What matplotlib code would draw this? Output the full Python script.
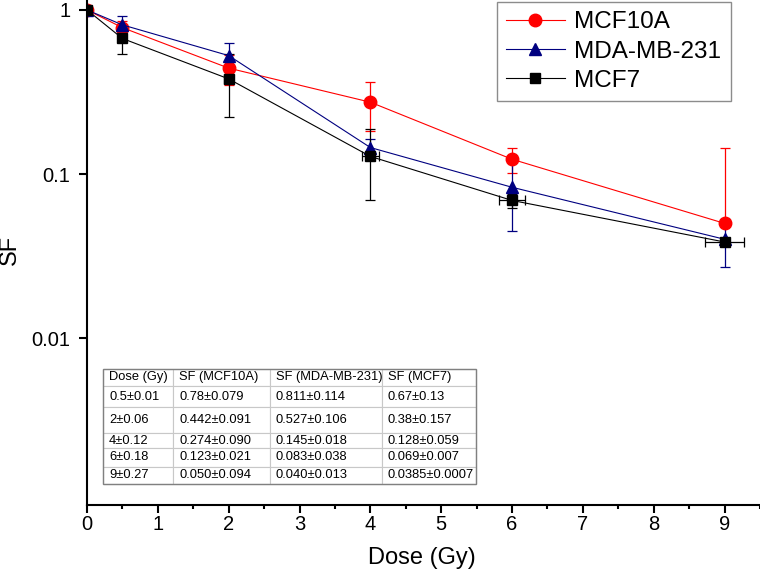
import numpy as np
import matplotlib
matplotlib.use("Agg")
import matplotlib.pyplot as plt
from matplotlib.patches import Rectangle

plt.rcParams["font.family"] = ["Liberation Sans", "DejaVu Sans"]

# ---------- DATA ----------
dose = [0, 0.5, 2, 4, 6, 9]
dose_err = [0, 0.01, 0.06, 0.12, 0.18, 0.27]

sf_mcf10a = [1, 0.78, 0.442, 0.274, 0.123, 0.050]
err_mcf10a = [0, 0.079, 0.091, 0.090, 0.021, 0.094]

sf_mda = [1, 0.811, 0.527, 0.145, 0.083, 0.040]
err_mda = [0, 0.114, 0.106, 0.018, 0.038, 0.013]

sf_mcf7 = [1, 0.67, 0.38, 0.128, 0.069, 0.0385]
err_mcf7 = [0, 0.13, 0.157, 0.059, 0.007, 0.0007]

table_header = ["Dose (Gy)", "SF (MCF10A)", "SF (MDA-MB-231)", "SF (MCF7)"]
table_dose = ["0.5±0.01", "2±0.06", "4±0.12", "6±0.18", "9±0.27"]
table_mcf10a = ["0.78±0.079", "0.442±0.091", "0.274±0.090", "0.123±0.021", "0.050±0.094"]
table_mda = ["0.811±0.114", "0.527±0.106", "0.145±0.018", "0.083±0.038", "0.040±0.013"]
table_mcf7 = ["0.67±0.13", "0.38±0.157", "0.128±0.059", "0.069±0.007", "0.0385±0.0007"]


def log_yerr(vals, errs):
    # lower bar that would go below zero is not drawn on a log axis
    v = np.array(vals)
    e = np.array(errs)
    lo = np.where(v - e > 0, e, 0)
    return [lo, e]


# ---------- PLOT ----------
W, H = 760, 573
fig = plt.figure(figsize=(W / 100, H / 100), dpi=100)
ax = fig.add_axes([87 / W, 68 / H, 673 / W, 505 / H])

series = [
    ("MCF10A", sf_mcf10a, err_mcf10a, "#ff0000", "o", 9, None),
    ("MDA-MB-231", sf_mda, err_mda, "#000080", "^", 9, None),
    ("MCF7", sf_mcf7, err_mcf7, "#000000", "s", 7.5, dose_err),
]

handles, labels = [], []
for name, vals, errs, color, marker, ms, xerr in series:
    c = ax.errorbar(dose, vals, yerr=log_yerr(vals, errs), xerr=xerr,
                    color=color, marker=marker, markersize=ms, lw=0.8,
                    elinewidth=0.9, capsize=3.6, capthick=0.9)
    handles.append(c[0])
    labels.append(name)

ax.set_yscale("log")
ax.set_xlim(0, 9.5)
ax.set_ylim(0.00096, 1.15)

ax.set_yticks([0.01, 0.1, 1])
ax.set_yticklabels(["0.01", "0.1", "1"])
ax.yaxis.set_minor_locator(matplotlib.ticker.NullLocator())
ax.set_xticks(range(10))
ax.set_xticks(np.arange(0.5, 9.6, 1.0), minor=True)

ax.spines["top"].set_visible(False)
ax.spines["right"].set_visible(False)
for s in ["left", "bottom"]:
    ax.spines[s].set_linewidth(1.5)

ax.tick_params(axis="y", which="major", length=5.5, width=1.5, labelsize=14.5, pad=6.5)
ax.tick_params(axis="x", which="major", length=6, width=1.5, labelsize=14.5, pad=1.5)
ax.tick_params(axis="x", which="minor", length=3, width=1.5)

ax.set_xlabel("Dose (Gy)", fontsize=17)
ax.set_ylabel("SF", fontsize=17)
ax.xaxis.set_label_coords(0.498, -0.083)
ax.yaxis.set_label_coords(-0.098, 0.505)

leg = ax.legend(handles, labels, loc="upper left",
                bbox_to_anchor=(497 / W, 1 - 2 / H), bbox_transform=fig.transFigure,
                fontsize=17.5, frameon=True, fancybox=False, borderaxespad=0,
                handlelength=2.4, handletextpad=0.4, borderpad=0.38,
                labelspacing=0.3)
leg.get_frame().set_edgecolor("#707070")
leg.get_frame().set_linewidth(1.0)

# ---------- TABLE ----------
col_px = [70, 97, 112, 94]
row_px = [17, 21, 26, 15, 19, 17]
ax_w, ax_h = 673, 505
tx0, ty0 = 16 / ax_w, 21 / ax_h
tw, th = sum(col_px) / ax_w, sum(row_px) / ax_h

cell_text = [list(r) for r in zip(table_dose, table_mcf10a, table_mda, table_mcf7)]
table = ax.table(cellText=cell_text, colLabels=table_header,
                 colWidths=[c / ax_w for c in col_px], cellLoc="left", colLoc="left",
                 bbox=[tx0, ty0, tw, th], zorder=5)
table.auto_set_font_size(False)
table.set_fontsize(9.3)
for (r, c), cell in table.get_celld().items():
    cell.set_height(row_px[r] / ax_h)
    cell.set_edgecolor("#c8c8c8")
    cell.set_linewidth(0.8)
    cell.set_facecolor("white")
    cell.PAD = 6 / col_px[c]

ax.add_patch(Rectangle((tx0, ty0), tw, th, transform=ax.transAxes, fill=False,
                       edgecolor="#808080", lw=1.0, zorder=6, clip_on=False))

fig.savefig("out.png", dpi=100)
